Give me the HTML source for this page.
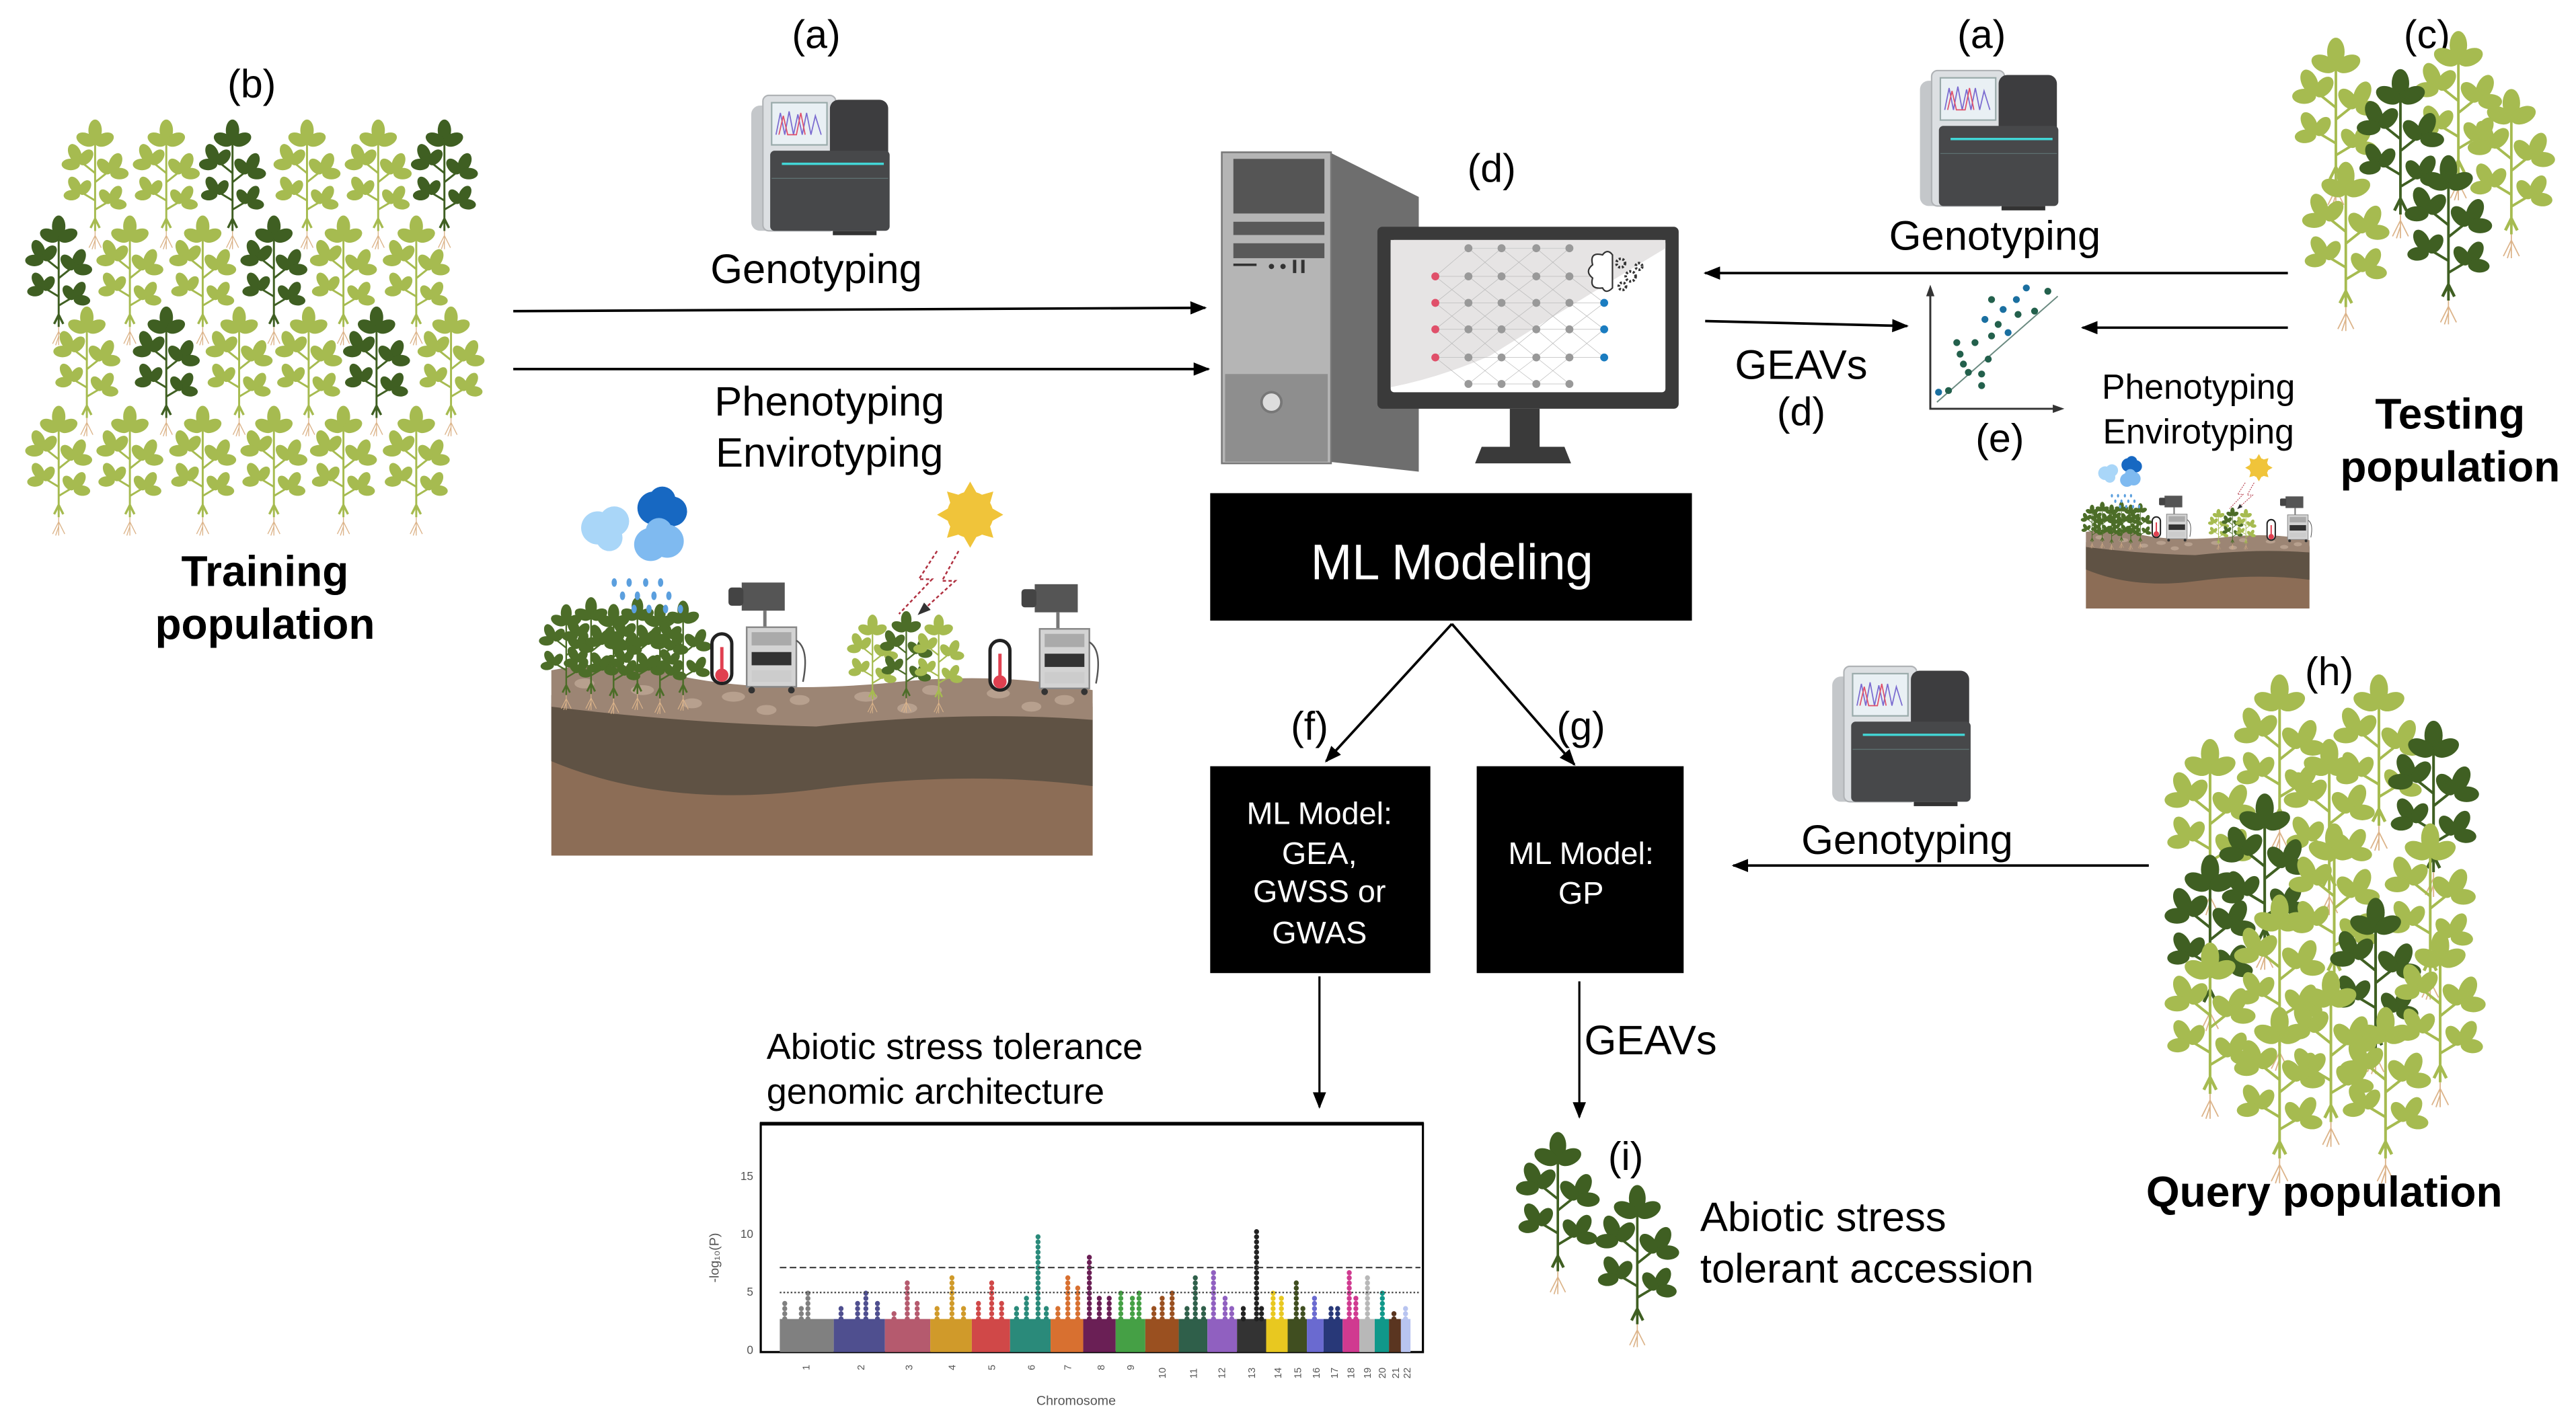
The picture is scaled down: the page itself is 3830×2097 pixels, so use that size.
<!DOCTYPE html>
<html><head><meta charset="utf-8"><style>
html,body{margin:0;padding:0;background:#fff;}
svg{display:block;}
text{font-family:"Liberation Sans",Arial,sans-serif;}
</style></head><body>
<svg width="3830" height="2097" viewBox="0 0 1556 852" xmlns="http://www.w3.org/2000/svg">
<defs>
<marker id="ah" markerWidth="10" markerHeight="8" refX="9" refY="4" orient="auto" markerUnits="userSpaceOnUse"><path d="M0 0 L10 4 L0 8 Z" fill="#000"/></marker>
<marker id="ah2" markerWidth="8" markerHeight="6" refX="7" refY="3" orient="auto" markerUnits="userSpaceOnUse"><path d="M0 0 L8 3 L0 6 Z" fill="#333"/></marker>
<g id="lc" stroke="none"><ellipse cx="0" cy="-5.5" rx="4" ry="6.5"/><ellipse cx="-5.5" cy="0" rx="3.8" ry="6" transform="rotate(-65 -5.5 0)"/><ellipse cx="5.5" cy="0" rx="3.8" ry="6" transform="rotate(65 5.5 0)"/></g>
<g id="pb">
<path d="M20 68 V6 M20 30 L10 22 M20 36 L30 28 M20 48 L10 42 M20 54 L30 48" fill="none" stroke-width="1.3"/>
<use href="#lc" transform="translate(20,8) scale(1.1)"/>
<use href="#lc" transform="translate(9,22) rotate(-25)"/>
<use href="#lc" transform="translate(31,28) rotate(25)"/>
<use href="#lc" transform="translate(9,42) rotate(-30) scale(.9)"/>
<use href="#lc" transform="translate(31,48) rotate(30) scale(.9)"/>
<path d="M20 60 l-3 6 M20 60 l3 6" fill="none" stroke-width="1.5"/>
<path d="M20 68 V80 M20 71 l-4 8 M20 71 l4 8 M20 74 l-2 6" fill="none" stroke="#dcb48a" stroke-width=".6"/>
</g>
<g id="pL" fill="#a6bb50" stroke="#a6bb50"><use href="#pb"/></g>
<g id="pD" fill="#3f5f22" stroke="#3f5f22"><use href="#pb"/></g>
<g id="pM" fill="#4c6d28" stroke="#4c6d28"><use href="#pb"/></g>
<g id="seq">
<rect x="2" y="10" width="32" height="86" rx="6" fill="#c4c7ca"/>
<rect x="10" y="3" width="50" height="93" rx="4" fill="#dcdfe2" stroke="#b0b3b6" stroke-width="1"/>
<rect x="16" y="8" width="38" height="29" fill="#e9f0f4" stroke="#9aa" stroke-width="1"/>
<path d="M19 30 L22 15 L25 30 L28 14 L31 30 L34 16 L37 30 L40 15 L43 30 L46 17 L50 30" fill="none" stroke="#7a6ad0" stroke-width=".8"/>
<path d="M21 30 L24 17 L27 30 L33 30 L36 15 L39 30" fill="none" stroke="#e0506a" stroke-width=".8"/>
<rect x="56" y="6" width="40" height="44" rx="6" fill="#3d3d3f"/>
<rect x="15" y="41" width="82" height="55" rx="3" fill="#47484a"/>
<line x1="23" y1="50" x2="93" y2="50" stroke="#42d6d6" stroke-width="1.6"/>
<line x1="16" y1="60" x2="96" y2="60" stroke="#5e7070" stroke-width=".6"/>
<rect x="58" y="96" width="30" height="3" fill="#333"/>
</g>
<g id="cart">
<rect x="0" y="0" width="26" height="17" fill="#555"/><rect x="-8" y="3" width="9" height="11" rx="2" fill="#444"/>
<path d="M14 17 V27" stroke="#777" stroke-width="2"/>
<rect x="3" y="27" width="30" height="36" fill="#d3d3d3" stroke="#888" stroke-width="1"/>
<rect x="6" y="30" width="24" height="8" fill="#aaa"/><rect x="6" y="42" width="24" height="8" fill="#333"/><rect x="6" y="53" width="24" height="7" fill="#ccc"/>
<circle cx="6" cy="65" r="2" fill="#333"/><circle cx="30" cy="65" r="2" fill="#333"/>
<path d="M33 35 q8 5 4 25" fill="none" stroke="#555" stroke-width="1"/>
</g>
<g id="therm"><rect x="0" y="0" width="12" height="30" rx="6" fill="#fff" stroke="#222" stroke-width="2"/><circle cx="6" cy="25" r="4" fill="#e04050"/><rect x="5" y="8" width="2" height="16" fill="#e04050"/></g>
<g id="field">
<rect x="0" y="130" width="327" height="92" fill="#8c6d56"/>
<path d="M0 125 Q80 128 160 135 T327 132 V180 Q250 170 160 182 T0 165 Z" fill="#5f5244"/>
<path d="M0 110 Q40 102 80 114 Q130 124 200 118 Q270 110 327 122 V140 Q250 134 160 144 Q80 142 0 132 Z" fill="#9c8574"/>
<g fill="#b7a08e"><ellipse cx="20" cy="118" rx="6" ry="3"/><ellipse cx="55" cy="122" rx="7" ry="3"/><ellipse cx="110" cy="126" rx="7" ry="3"/><ellipse cx="150" cy="128" rx="6" ry="3"/><ellipse cx="190" cy="126" rx="7" ry="3"/><ellipse cx="230" cy="122" rx="6" ry="3"/><ellipse cx="270" cy="124" rx="7" ry="3"/><ellipse cx="310" cy="128" rx="6" ry="3"/><ellipse cx="85" cy="130" rx="6" ry="3"/><ellipse cx="130" cy="134" rx="6" ry="3"/><ellipse cx="215" cy="133" rx="6" ry="3"/><ellipse cx="290" cy="132" rx="6" ry="3"/></g>
<g><use href="#pM" transform="translate(-6,74) scale(.75)"/><use href="#pM" transform="translate(8,70) scale(.8)"/><use href="#pM" transform="translate(22,74) scale(.78)"/><use href="#pM" transform="translate(36,70) scale(.8)"/><use href="#pM" transform="translate(50,74) scale(.78)"/><use href="#pM" transform="translate(64,72) scale(.78)"/></g>
<circle cx="28" cy="24" r="10" fill="#a9d6f8"/><circle cx="38" cy="20" r="9" fill="#a9d6f8"/><circle cx="35" cy="30" r="8" fill="#a9d6f8"/>
<circle cx="62" cy="12" r="10" fill="#1768c2"/><circle cx="73" cy="14" r="9" fill="#1768c2"/><circle cx="67" cy="7" r="8" fill="#1768c2"/>
<circle cx="60" cy="34" r="10" fill="#7fbaf0"/><circle cx="70" cy="32" r="10" fill="#7fbaf0"/><circle cx="65" cy="26" r="8" fill="#7fbaf0"/>
<g fill="#5b9fde"><ellipse cx="38" cy="57" rx="1.6" ry="2.6"/><ellipse cx="47" cy="57" rx="1.6" ry="2.6"/><ellipse cx="57" cy="57" rx="1.6" ry="2.6"/><ellipse cx="66" cy="57" rx="1.6" ry="2.6"/><ellipse cx="43" cy="65" rx="1.6" ry="2.6"/><ellipse cx="52" cy="65" rx="1.6" ry="2.6"/><ellipse cx="62" cy="65" rx="1.6" ry="2.6"/><ellipse cx="71" cy="65" rx="1.6" ry="2.6"/><ellipse cx="50" cy="73" rx="1.6" ry="2.6"/><ellipse cx="59" cy="73" rx="1.6" ry="2.6"/><ellipse cx="69" cy="73" rx="1.6" ry="2.6"/><ellipse cx="78" cy="73" rx="1.6" ry="2.6"/></g>
<use href="#therm" transform="translate(97,88)"/>
<use href="#cart" transform="translate(115,57)"/>
<g fill="#f0c43a"><path d="M253 -4 l4 7 h-8Z M253 36 l4 -7 h-8Z M233 16 l7 4 v-8Z M273 16 l-7 4 v-8Z M239 2 l7 2 -5 5Z M267 2 l-7 2 5 5Z M239 30 l7 -2 -5 -5Z M267 30 l-7 -2 5 -5Z"/><circle cx="253" cy="16" r="14"/></g>
<path d="M233 38 L222 55 L230 55 L210 76 M246 38 L236 56 L244 56 L222 76" fill="none" stroke="#b03040" stroke-width="1" stroke-dasharray="2 1.5" marker-end="url(#ah2)"/>
<g><use href="#pL" transform="translate(180,80) scale(.7)" fill="#8fa350" stroke="#8fa350"/><use href="#pM" transform="translate(200,78) scale(.72)"/><use href="#pL" transform="translate(220,80) scale(.7)" fill="#9fae6a" stroke="#9fae6a"/></g>
<use href="#therm" transform="translate(265,92)"/>
<use href="#cart" transform="translate(292,58)"/>
</g>
</defs>

<text x="152" y="59" font-size="24" text-anchor="middle">(b)</text>
<g>
<use href="#pL" transform="translate(39,77) scale(.92)"/><use href="#pL" transform="translate(82,77) scale(.92)"/><use href="#pD" transform="translate(122,77) scale(.92)"/><use href="#pL" transform="translate(167,77) scale(.92)"/><use href="#pL" transform="translate(210,77) scale(.92)"/><use href="#pD" transform="translate(250,77) scale(.92)"/>
<use href="#pD" transform="translate(17,135) scale(.92)"/><use href="#pL" transform="translate(60,135) scale(.92)"/><use href="#pL" transform="translate(104,135) scale(.92)"/><use href="#pD" transform="translate(147,135) scale(.92)"/><use href="#pL" transform="translate(189,135) scale(.92)"/><use href="#pL" transform="translate(233,135) scale(.92)"/>
<use href="#pL" transform="translate(34,190) scale(.92)"/><use href="#pD" transform="translate(82,190) scale(.92)"/><use href="#pL" transform="translate(126,190) scale(.92)"/><use href="#pL" transform="translate(168,190) scale(.92)"/><use href="#pD" transform="translate(209,190) scale(.92)"/><use href="#pL" transform="translate(254,190) scale(.92)"/>
<use href="#pL" transform="translate(17,250) scale(.92)"/><use href="#pL" transform="translate(60,250) scale(.92)"/><use href="#pL" transform="translate(104,250) scale(.92)"/><use href="#pL" transform="translate(147,250) scale(.92)"/><use href="#pL" transform="translate(189,250) scale(.92)"/><use href="#pL" transform="translate(233,250) scale(.92)"/>
</g>
<text x="160" y="354" font-size="26" font-weight="bold" text-anchor="middle">Training</text>
<text x="160" y="386" font-size="26" font-weight="bold" text-anchor="middle">population</text>

<text x="493" y="29" font-size="24" text-anchor="middle">(a)</text>
<use href="#seq" transform="translate(452,55) scale(.88)"/>
<text x="493" y="171" font-size="25" text-anchor="middle">Genotyping</text>
<line x1="310" y1="188" x2="728" y2="186" stroke="#000" stroke-width="1.5" marker-end="url(#ah)"/>
<line x1="310" y1="223" x2="730" y2="223" stroke="#000" stroke-width="1.5" marker-end="url(#ah)"/>
<text x="501" y="251" font-size="25" text-anchor="middle">Phenotyping</text>
<text x="501" y="282" font-size="25" text-anchor="middle">Envirotyping</text>
<use href="#field" transform="translate(333,295)"/>

<text x="901" y="110" font-size="24" text-anchor="middle">(d)</text>
<path d="M803 92 L857 119 L857 285 L803 279 Z" fill="#6e6e6e"/>
<rect x="738" y="92" width="66" height="188" fill="#b5b5b5" stroke="#777" stroke-width="1"/>
<rect x="745" y="96" width="55" height="33" fill="#555"/>
<rect x="745" y="134" width="55" height="8" fill="#595959"/>
<rect x="745" y="147" width="55" height="9" fill="#595959"/>
<path d="M745 160 h14" stroke="#333" stroke-width="1.5"/>
<circle cx="768" cy="161" r="1.6" fill="#333"/><circle cx="775" cy="161" r="1.6" fill="#333"/>
<rect x="781" y="157" width="2" height="8" fill="#333"/><rect x="786" y="157" width="2" height="8" fill="#333"/>
<rect x="740" y="226" width="62" height="53" fill="#8e8e8e"/>
<circle cx="768" cy="243" r="6" fill="#ddd" stroke="#777" stroke-width="1.5"/>
<rect x="832" y="137" width="182" height="110" rx="3" fill="#3a3a3a"/>
<rect x="840" y="145" width="166" height="92" rx="2" fill="#fff"/>
<path d="M840 145 H1006 V150 Q940 190 900 215 Q870 228 840 234 Z" fill="#e6e4e4"/>
<g stroke="#bbb" stroke-width=".3">
<path d="M867 167 L887 150 M867 167 L887 183 M867 183 L887 167 M867 183 L887 199 M867 199 L887 183 M867 199 L887 216 M867 216 L887 199 M867 216 L887 232 M887 150 L907 167 M887 167 L907 150 M887 167 L907 183 M887 183 L907 167 M887 183 L907 199 M887 199 L907 183 M887 199 L907 216 M887 216 L907 199 M887 216 L907 232 M887 232 L907 216 M907 150 L928 167 M907 167 L928 150 M907 167 L928 183 M907 183 L928 167 M907 183 L928 199 M907 199 L928 183 M907 199 L928 216 M907 216 L928 199 M907 216 L928 232 M907 232 L928 216 M928 150 L948 167 M928 167 L948 150 M928 167 L948 183 M928 183 L948 167 M928 183 L948 199 M928 199 L948 183 M928 199 L948 216 M928 216 L948 199 M928 216 L948 232 M928 232 L948 216 M948 167 L969 183 M948 183 L969 199 M948 199 L969 183 M948 199 L969 216 M948 216 L969 199 M867 167 H969 M867 183 H969 M867 199 H969 M867 216 H969 M887 150 H948 M887 232 H948"/>
</g>
<g fill="#e0506a"><circle cx="867" cy="167" r="2.4"/><circle cx="867" cy="183" r="2.4"/><circle cx="867" cy="199" r="2.4"/><circle cx="867" cy="216" r="2.4"/></g>
<g fill="#999"><circle cx="887" cy="150" r="2.4"/><circle cx="887" cy="167" r="2.4"/><circle cx="887" cy="183" r="2.4"/><circle cx="887" cy="199" r="2.4"/><circle cx="887" cy="216" r="2.4"/><circle cx="887" cy="232" r="2.4"/><circle cx="907" cy="150" r="2.4"/><circle cx="907" cy="167" r="2.4"/><circle cx="907" cy="183" r="2.4"/><circle cx="907" cy="199" r="2.4"/><circle cx="907" cy="216" r="2.4"/><circle cx="907" cy="232" r="2.4"/><circle cx="928" cy="150" r="2.4"/><circle cx="928" cy="167" r="2.4"/><circle cx="928" cy="183" r="2.4"/><circle cx="928" cy="199" r="2.4"/><circle cx="928" cy="216" r="2.4"/><circle cx="928" cy="232" r="2.4"/><circle cx="948" cy="150" r="2.4"/><circle cx="948" cy="167" r="2.4"/><circle cx="948" cy="183" r="2.4"/><circle cx="948" cy="199" r="2.4"/><circle cx="948" cy="216" r="2.4"/><circle cx="948" cy="232" r="2.4"/></g>
<g fill="#1a7cc0"><circle cx="969" cy="183" r="2.4"/><circle cx="969" cy="199" r="2.4"/><circle cx="969" cy="216" r="2.4"/></g>
<path d="M968 154 q-8 -2 -6 6 q-5 4 0 8 q-2 7 6 6 q2 4 6 0 V154 q-3 -4 -6 0Z" fill="#fff" stroke="#333" stroke-width=".9"/>
<g fill="none" stroke="#333" stroke-width="1.6" stroke-dasharray="1.2 1"><circle cx="979" cy="159" r="2.6"/><circle cx="985" cy="167" r="3"/><circle cx="980" cy="173" r="2.2"/><circle cx="990" cy="161" r="2"/></g>
<rect x="912" y="247" width="18" height="23" fill="#3a3a3a"/>
<path d="M895 270 H945 L949 280 H891 Z" fill="#3a3a3a"/>

<rect x="731" y="298" width="291" height="77" fill="#000"/>
<text x="877" y="350" font-size="30" fill="#fff" text-anchor="middle">ML Modeling</text>
<line x1="877" y1="377" x2="801" y2="460" stroke="#000" stroke-width="1.5" marker-end="url(#ah)"/>
<line x1="877" y1="377" x2="951" y2="462" stroke="#000" stroke-width="1.5" marker-end="url(#ah)"/>
<text x="791" y="447" font-size="24" text-anchor="middle">(f)</text>
<text x="955" y="447" font-size="24" text-anchor="middle">(g)</text>
<rect x="731" y="463" width="133" height="125" fill="#000"/>
<g font-size="19" fill="#fff" text-anchor="middle"><text x="797" y="498">ML Model:</text><text x="797" y="522">GEA,</text><text x="797" y="545">GWSS or</text><text x="797" y="570">GWAS</text></g>
<rect x="892" y="463" width="125" height="125" fill="#000"/>
<g font-size="19" fill="#fff" text-anchor="middle"><text x="955" y="522">ML Model:</text><text x="955" y="546">GP</text></g>
<line x1="797" y1="590" x2="797" y2="669" stroke="#000" stroke-width="1.3" marker-end="url(#ah)"/>
<line x1="954" y1="593" x2="954" y2="675" stroke="#000" stroke-width="1.3" marker-end="url(#ah)"/>
<text x="957" y="637" font-size="25">GEAVs</text>

<text x="463" y="640" font-size="22">Abiotic stress tolerance</text>
<text x="463" y="667" font-size="22">genomic architecture</text>
<rect x="459.5" y="679" width="400" height="138" fill="#fff" stroke="#000" stroke-width="1.3"/>
<line x1="459" y1="679" x2="860" y2="679" stroke="#000" stroke-width="2.2"/>
<g font-size="7" fill="#555" text-anchor="end"><text x="455" y="713">15</text><text x="455" y="748">10</text><text x="455" y="783">5</text><text x="455" y="818">0</text></g>
<text transform="translate(434,760) rotate(-90)" font-size="8" fill="#555" text-anchor="middle">-log₁₀(P)</text>
<g>
<rect x="471" y="797" width="32.6" height="20" fill="#808080"/><rect x="503.6" y="797" width="30.9" height="20" fill="#4f4f8f"/><rect x="534.5" y="797" width="27.4" height="20" fill="#b55a6e"/><rect x="561.9" y="797" width="25.1" height="20" fill="#d09a2a"/><rect x="587" y="797" width="23.1" height="20" fill="#d04848"/><rect x="610.1" y="797" width="24.5" height="20" fill="#2a8a7a"/><rect x="634.6" y="797" width="19.7" height="20" fill="#d87030"/><rect x="654.3" y="797" width="19.6" height="20" fill="#6a1f55"/><rect x="673.9" y="797" width="17.9" height="20" fill="#45a045"/><rect x="691.8" y="797" width="20.2" height="20" fill="#9a5020"/><rect x="712" y="797" width="17.3" height="20" fill="#2f5f4a"/><rect x="729.3" y="797" width="17.9" height="20" fill="#9060c0"/><rect x="747.2" y="797" width="17.6" height="20" fill="#333"/><rect x="764.8" y="797" width="13" height="20" fill="#e8c820"/><rect x="777.8" y="797" width="11.6" height="20" fill="#404e20"/><rect x="789.4" y="797" width="10.1" height="20" fill="#6a6ad0"/><rect x="799.5" y="797" width="11.5" height="20" fill="#283878"/><rect x="811" y="797" width="10.1" height="20" fill="#d03a90"/><rect x="821.1" y="797" width="9.3" height="20" fill="#b8b8b8"/><rect x="830.4" y="797" width="8.6" height="20" fill="#10988a"/><rect x="839" y="797" width="7.2" height="20" fill="#5a3520"/><rect x="846.2" y="797" width="5.8" height="20" fill="#b8c4f0"/>
</g>
<g stroke-linecap="round" stroke-width="3" stroke-dasharray="0.1 3">
<path d="M474 797 V787 M484 797 V790 M488 797 V781" stroke="#808080"/>
<path d="M508 797 V788 M518 797 V785 M523 797 V781 M530 797 V786" stroke="#4f4f8f"/>
<path d="M540 797 V791 M548 797 V774 M554 797 V786" stroke="#b55a6e"/>
<path d="M566 797 V790 M575 797 V770 M582 797 V790" stroke="#d09a2a"/>
<path d="M591 797 V787 M599 797 V774 M605 797 V786" stroke="#d04848"/>
<path d="M614 797 V790 M620 797 V783 M627 797 V746 M632 797 V790" stroke="#2a8a7a"/>
<path d="M639 797 V790 M645 797 V770 M651 797 V776" stroke="#d87030"/>
<path d="M658 797 V758 M664 797 V783 M670 797 V783" stroke="#6a1f55"/>
<path d="M677 797 V779 M684 797 V783 M688 797 V781" stroke="#45a045"/>
<path d="M697 797 V790 M702 797 V783 M708 797 V779" stroke="#9a5020"/>
<path d="M717 797 V790 M722 797 V770 M727 797 V790" stroke="#2f5f4a"/>
<path d="M733 797 V766 M740 797 V783 M744 797 V790" stroke="#9060c0"/>
<path d="M751 797 V788 M759 797 V744 M762 797 V790" stroke="#222"/>
<path d="M769 797 V779 M774 797 V783" stroke="#e8c820"/>
<path d="M783 797 V773 M787 797 V790" stroke="#404e20"/>
<path d="M794 797 V783" stroke="#6a6ad0"/>
<path d="M804 797 V790 M808 797 V790" stroke="#283878"/>
<path d="M815 797 V766 M819 797 V783" stroke="#d03a90"/>
<path d="M826 797 V771" stroke="#b8b8b8"/>
<path d="M835 797 V781" stroke="#10988a"/>
<path d="M842 797 V792" stroke="#5a3520"/>
<path d="M849 797 V790" stroke="#b8c4f0"/>
</g>
<line x1="471" y1="765.9" x2="858" y2="765.9" stroke="#444" stroke-width=".9" stroke-dasharray="4 2"/>
<line x1="471" y1="781" x2="858" y2="781" stroke="#444" stroke-width=".9" stroke-dasharray="1 1.2"/>
<g font-size="6" fill="#555">
<text transform="translate(489,828) rotate(-90)">1</text><text transform="translate(522,828) rotate(-90)">2</text><text transform="translate(551,828) rotate(-90)">3</text><text transform="translate(577,828) rotate(-90)">4</text><text transform="translate(601,828) rotate(-90)">5</text><text transform="translate(625,828) rotate(-90)">6</text><text transform="translate(647,828) rotate(-90)">7</text><text transform="translate(667,828) rotate(-90)">8</text><text transform="translate(685,828) rotate(-90)">9</text><text transform="translate(704,833) rotate(-90)">10</text><text transform="translate(723,833) rotate(-90)">11</text><text transform="translate(740,833) rotate(-90)">12</text><text transform="translate(758,833) rotate(-90)">13</text><text transform="translate(774,833) rotate(-90)">14</text><text transform="translate(786,833) rotate(-90)">15</text><text transform="translate(797,833) rotate(-90)">16</text><text transform="translate(808,833) rotate(-90)">17</text><text transform="translate(818,833) rotate(-90)">18</text><text transform="translate(828,833) rotate(-90)">19</text><text transform="translate(837,833) rotate(-90)">20</text><text transform="translate(845,833) rotate(-90)">21</text><text transform="translate(852,833) rotate(-90)">22</text>
</g>
<text x="650" y="849" font-size="8" fill="#555" text-anchor="middle">Chromosome</text>

<use href="#pD" transform="translate(918,690) scale(1.15)"/>
<use href="#pD" transform="translate(966,722) scale(1.15)"/>
<text x="982" y="707" font-size="24" text-anchor="middle">(i)</text>
<text x="1027" y="744" font-size="25">Abiotic stress</text>
<text x="1027" y="775" font-size="25">tolerant accession</text>

<text x="1197" y="29" font-size="24" text-anchor="middle">(a)</text>
<use href="#seq" transform="translate(1158,40) scale(.88)"/>
<text x="1205" y="151" font-size="25" text-anchor="middle">Genotyping</text>
<line x1="1382" y1="165" x2="1030" y2="165" stroke="#000" stroke-width="1.5" marker-end="url(#ah)"/>
<line x1="1030" y1="194" x2="1152" y2="197" stroke="#000" stroke-width="1.5" marker-end="url(#ah)"/>
<line x1="1382" y1="198" x2="1258" y2="198" stroke="#000" stroke-width="1.5" marker-end="url(#ah)"/>
<text x="1088" y="229" font-size="25" text-anchor="middle">GEAVs</text>
<text x="1088" y="257" font-size="24" text-anchor="middle">(d)</text>
<path d="M1166 174 V247 H1245" fill="none" stroke="#333" stroke-width="1.2"/>
<path d="M1163.5 179 L1166 172 L1168.5 179Z M1240 244.5 L1247 247 L1240 249.5Z" fill="#333"/>
<line x1="1170" y1="243" x2="1243" y2="179" stroke="#6a8a80" stroke-width=".8"/>
<g fill="#23604c"><circle cx="1177" cy="236" r="2.1"/><circle cx="1186" cy="220" r="2.1"/><circle cx="1184" cy="214" r="2.1"/><circle cx="1182" cy="207" r="2.1"/><circle cx="1197" cy="233" r="2.1"/><circle cx="1197" cy="226" r="2.1"/><circle cx="1201" cy="217" r="2.1"/><circle cx="1193" cy="207" r="2.1"/><circle cx="1203" cy="203" r="2.1"/><circle cx="1207" cy="196" r="2.1"/><circle cx="1203" cy="181" r="2.1"/><circle cx="1219" cy="190" r="2.1"/><circle cx="1229" cy="188" r="2.1"/><circle cx="1237" cy="176" r="2.1"/><circle cx="1189" cy="225" r="2.1"/></g>
<g fill="#1a6fa0"><circle cx="1171" cy="237" r="2.1"/><circle cx="1199" cy="193" r="2.1"/><circle cx="1210" cy="187" r="2.1"/><circle cx="1218" cy="181" r="2.1"/><circle cx="1224" cy="174" r="2.1"/><circle cx="1213" cy="201" r="2.1"/></g>
<text x="1208" y="273" font-size="24" text-anchor="middle">(e)</text>
<text x="1328" y="241" font-size="21" text-anchor="middle">Phenotyping</text>
<text x="1328" y="268" font-size="21" text-anchor="middle">Envirotyping</text>
<use href="#field" transform="translate(1260,276) scale(.413)"/>
<text x="1466" y="29" font-size="24" text-anchor="middle">(c)</text>
<use href="#pL" transform="translate(1387,29) scale(1.2)"/>
<use href="#pL" transform="translate(1461,25) scale(1.2)"/>
<use href="#pD" transform="translate(1426,48) scale(1.2)"/>
<use href="#pL" transform="translate(1493,60) scale(1.2)"/>
<use href="#pL" transform="translate(1393,104) scale(1.2)"/>
<use href="#pD" transform="translate(1455,100) scale(1.2)"/>
<text x="1480" y="259" font-size="26" font-weight="bold" text-anchor="middle">Testing</text>
<text x="1480" y="291" font-size="26" font-weight="bold" text-anchor="middle">population</text>

<use href="#seq" transform="translate(1105,400) scale(.88)"/>
<text x="1152" y="516" font-size="25" text-anchor="middle">Genotyping</text>
<line x1="1298" y1="523" x2="1047" y2="523" stroke="#000" stroke-width="1.5" marker-end="url(#ah)"/>
<text x="1407" y="414" font-size="24" text-anchor="middle">(h)</text>
<g>
<use href="#pL" transform="translate(1352,414) scale(1.25)"/>
<use href="#pL" transform="translate(1412,414) scale(1.25)"/>
<use href="#pL" transform="translate(1310,453) scale(1.25)"/>
<use href="#pL" transform="translate(1382,453) scale(1.25)"/>
<use href="#pD" transform="translate(1445,442) scale(1.25)"/>
<use href="#pD" transform="translate(1343,486) scale(1.25)"/>
<use href="#pL" transform="translate(1385,504) scale(1.25)"/>
<use href="#pL" transform="translate(1443,504) scale(1.25)"/>
<use href="#pD" transform="translate(1310,523) scale(1.25)"/>
<use href="#pL" transform="translate(1352,547) scale(1.25)"/>
<use href="#pD" transform="translate(1410,549) scale(1.25)"/>
<use href="#pL" transform="translate(1310,576) scale(1.25)"/>
<use href="#pL" transform="translate(1449,569) scale(1.25)"/>
<use href="#pL" transform="translate(1352,615) scale(1.25)"/>
<use href="#pL" transform="translate(1383,593) scale(1.25)"/>
<use href="#pL" transform="translate(1416,615) scale(1.25)"/>
</g>
<text x="1404" y="729" font-size="26" font-weight="bold" text-anchor="middle">Query population</text>
</svg>
</body></html>
